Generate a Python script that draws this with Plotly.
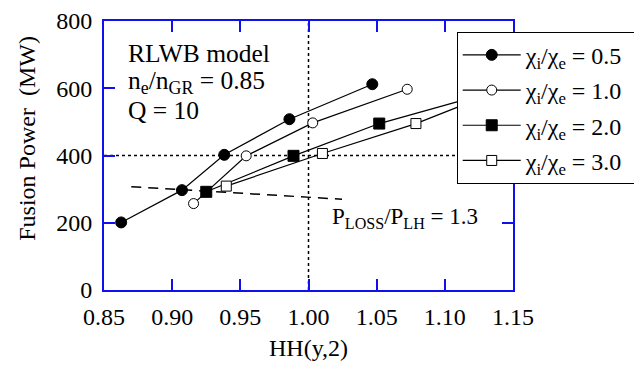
import plotly.graph_objects as go

# ---- data ----
hh_05 = [0.8626, 0.9072, 0.9382, 0.986, 1.0468]
pf_05 = [201, 297, 402, 508, 612]
hh_10 = [0.9157, 0.9543, 1.0031, 1.0724]
pf_10 = [257, 399, 497, 597]
hh_20 = [0.925, 0.989, 1.0519, 1.12]
pf_20 = [292, 399, 495, 572]
hh_30 = [0.9397, 1.0102, 1.0788, 1.14]
pf_30 = [309, 406, 495, 593]

ploss_hh = [0.870, 1.0246]
ploss_pf = [307, 270]

x_ticks = [0.85, 0.90, 0.95, 1.00, 1.05, 1.10, 1.15]
x_ticklabels = ["0.85", "0.90", "0.95", "1.00", "1.05", "1.10", "1.15"]
y_ticks = [0, 200, 400, 600, 800]

FONT = "Liberation Serif, Times New Roman, serif"
AXC = "#1010ee"

fig = go.Figure()

# reference lines
fig.add_trace(go.Scatter(x=[1.0, 1.0], y=[0, 800], mode="lines",
                         line=dict(color="black", width=1.5, dash="dot"),
                         showlegend=False, hoverinfo="skip"))
fig.add_trace(go.Scatter(x=[0.85, 1.15], y=[400, 400], mode="lines",
                         line=dict(color="black", width=1.5, dash="dot"),
                         showlegend=False, hoverinfo="skip"))
fig.add_trace(go.Scatter(x=ploss_hh, y=ploss_pf, mode="lines",
                         line=dict(color="black", width=1.5, dash="10px,7px"),
                         showlegend=False, hoverinfo="skip"))

series = [
    (hh_05, pf_05, "circle", "black", 11, "0.5"),
    (hh_10, pf_10, "circle", "white", 10, "1.0"),
    (hh_20, pf_20, "square", "black", 11, "2.0"),
    (hh_30, pf_30, "square", "white", 10, "3.0"),
]
for xs, ys, sym, fill, sz, lab in series:
    fig.add_trace(go.Scatter(
        x=xs, y=ys, mode="lines+markers",
        line=dict(color="black", width=1.2),
        marker=dict(symbol=sym, color=fill, size=sz,
                    line=dict(color="black", width=1)),
        name=f"χ<sub>i</sub>/χ<sub>e</sub> = {lab}\u00a0\u00a0",
        legendgroup=lab,
    ))

# page body has an 8px margin, so the figure is 8px smaller on each axis
fig.update_layout(
    width=634, height=364,
    margin=dict(l=96, r=129, t=13, b=82, autoexpand=False),
    paper_bgcolor="white", plot_bgcolor="white",
    font=dict(family=FONT, size=24, color="black"),
    showlegend=True,
    legend=dict(x=0.8624, y=0.96, xanchor="left", yanchor="top",
                bgcolor="white", bordercolor="black", borderwidth=1,
                font=dict(family=FONT, size=24, color="black"),
                traceorder="grouped", tracegroupgap=1, itemwidth=58),
    xaxis=dict(range=[0.85, 1.15], tickvals=x_ticks, ticktext=x_ticklabels,
               ticks="inside", ticklen=11, tickcolor=AXC, tickwidth=1.5,
               showline=True, linecolor=AXC, linewidth=2, mirror="ticks",
               showgrid=False, zeroline=False, automargin=False,
               ticklabelstandoff=4),
    yaxis=dict(range=[0, 800], tickvals=y_ticks,
               ticks="inside", ticklen=11, tickcolor=AXC, tickwidth=1.5,
               showline=True, linecolor=AXC, linewidth=2, mirror="ticks",
               showgrid=False, zeroline=False, automargin=False,
               ticklabelstandoff=5),
    annotations=[
        dict(text="RLWB model", x=0.866, y=704, xref="x", yref="y",
             xanchor="left", yanchor="middle", showarrow=False,
             font=dict(size=25.5)),
        dict(text="n<sub>e</sub>/n<sub>GR</sub> = 0.85", x=0.866, y=618, xref="x", yref="y",
             xanchor="left", yanchor="middle", showarrow=False,
             font=dict(size=25.5)),
        dict(text="Q = 10", x=0.866, y=535, xref="x", yref="y",
             xanchor="left", yanchor="middle", showarrow=False,
             font=dict(size=25.5)),
        dict(text="P<sub>LOSS</sub>/P<sub>LH</sub> = 1.3", x=1.0158, y=214,
             xref="x", yref="y", xanchor="left", yanchor="middle",
             showarrow=False, font=dict(size=23)),
        dict(text="Fusion Power  (MW)", x=-0.188, y=0.5626, xref="paper", yref="paper",
             xanchor="center", yanchor="middle", textangle=-90, showarrow=False,
             font=dict(size=24)),
        dict(text="HH(y,2)", x=0.5, y=-0.2154, xref="paper", yref="paper",
             xanchor="center", yanchor="middle", showarrow=False,
             font=dict(size=24)),
    ],
)

fig.write_html("out.html")
